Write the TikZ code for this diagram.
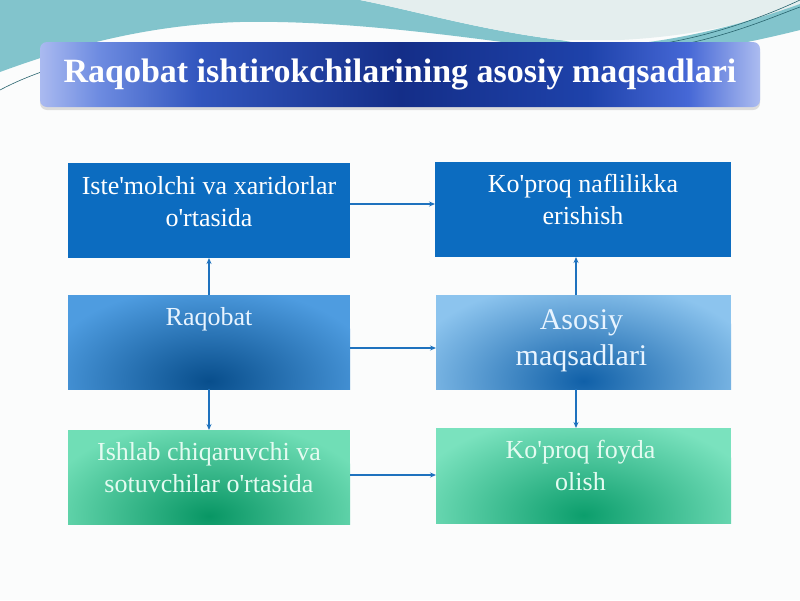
\documentclass[tikz,border=0pt]{standalone}
\usepackage{fontspec}
\setmainfont{Liberation Serif}
\usetikzlibrary{calc,shadows,arrows.meta}
\definecolor{bgc}{RGB}{251,252,252}
\definecolor{teal1}{RGB}{130,196,204}
\definecolor{lightreg}{RGB}{228,238,238}
\definecolor{darkline}{RGB}{40,100,110}
\definecolor{solidblue}{RGB}{12,108,192}
\definecolor{arrc}{RGB}{30,114,190}
\definecolor{tA}{RGB}{170,186,240}
\definecolor{tB}{RGB}{110,140,225}
\definecolor{tC}{RGB}{50,86,190}
\definecolor{tD}{RGB}{20,46,136}
\definecolor{tE}{RGB}{30,66,170}
\definecolor{tF}{RGB}{70,104,214}
\definecolor{tG}{RGB}{172,188,240}
\definecolor{b3o}{RGB}{78,156,224}
\definecolor{b3i}{RGB}{8,78,140}
\definecolor{b4o}{RGB}{140,196,238}
\definecolor{b4i}{RGB}{16,96,168}
\definecolor{b5o}{RGB}{112,222,182}
\definecolor{b5i}{RGB}{8,150,100}
\definecolor{b6o}{RGB}{122,226,190}
\definecolor{b6i}{RGB}{12,158,108}
\definecolor{txb}{RGB}{232,244,255}
\definecolor{txg}{RGB}{228,251,241}
\pgfdeclarehorizontalshading{titleshade}{100bp}{color(0bp)=(tA); color(25bp)=(tA); color(29bp)=(tB); color(36bp)=(tC); color(50bp)=(tD); color(63bp)=(tE); color(70bp)=(tF); color(75bp)=(tG); color(100bp)=(tG)}
\tikzset{
  box/.style={rectangle, inner sep=0pt, outer sep=0pt, draw=none},
  solidbox/.style={box, fill=solidblue},
  gbox/.style n args={4}{box, path picture={
      \fill[#1] (path picture bounding box.south west) rectangle (path picture bounding box.north east);
      \shade[inner color=#2, outer color=#1] ($(path picture bounding box.south)+(0,-8)$) ellipse (#3 and #4);}},
  txt/.style={text=white, align=center, font=\fontsize{26}{32}\selectfont, inner sep=0pt, anchor=base},
  arr/.style={draw=arrc, line width=1.6pt, -{Stealth[length=6pt,width=5pt]}},
}
\begin{document}
\begin{tikzpicture}[x=1pt,y=-1pt]
\useasboundingbox (0,0) rectangle (800,600);
\fill[bgc] (0,0) rectangle (800,600);
% background decoration
\fill[teal1] (0,0) -- (360,0) .. controls (420,12) and (480,30) .. (560,40) -- (600,47) -- (540,47)
  .. controls (450,35) and (340,20) .. (240,22) .. controls (140,25) and (60,50) .. (0,72) -- cycle;
\fill[lightreg] (360,0) -- (800,0) -- (800,4) .. controls (760,20) and (700,36) .. (620,40) -- (560,40)
  .. controls (480,30) and (420,12) .. (360,0) -- cycle;
\fill[teal1] (600,47) .. controls (680,42) and (750,22) .. (800,4) -- (800,30) .. controls (760,40) and (720,48) .. (690,52) -- cycle;
\draw[darkline, line width=0.6pt] (660,44) .. controls (720,34) and (770,14) .. (800,0);
\draw[darkline, line width=0.6pt] (680,45) .. controls (735,34) and (775,16) .. (800,7);
\draw[darkline, line width=0.6pt] (0,90) .. controls (15,82) and (30,76) .. (44,71);
% title
\node[box, rounded corners=7pt, shading=titleshade, minimum width=720pt, minimum height=65pt,
  drop shadow={shadow xshift=0pt, shadow yshift=-3pt, opacity=0.25, fill=gray},
  text=white, font=\bfseries\fontsize{34}{38}\selectfont] (title) at (400,74.5)
  {Raqobat ishtirokchilarining asosiy maqsadlari};
% boxes
\node[solidbox, minimum width=282pt, minimum height=95pt] (b1) at (209,210.5) {};
\node[solidbox, minimum width=296pt, minimum height=95pt] (b2) at (583,209.5) {};
\node[gbox={b3o}{b3i}{170pt}{95pt}, minimum width=282pt, minimum height=94pt] (b3) at (209,342) {};
\node[gbox={b4o}{b4i}{180pt}{100pt}, minimum width=295pt, minimum height=94pt] (b4) at (583.5,342) {};
\node[gbox={b5o}{b5i}{170pt}{95pt}, minimum width=282pt, minimum height=94pt] (b5) at (209,477) {};
\node[gbox={b6o}{b6i}{180pt}{100pt}, minimum width=295pt, minimum height=95pt] (b6) at (583.5,475.5) {};
% texts (anchor base = baseline of last line)
\node[txt] (t1) at ($(b1.north)+(0,63)$) {Iste\textquotesingle molchi va xaridorlar\\o\textquotesingle rtasida};
\node[txt] (t2) at ($(b2.north)+(0,62)$) {Ko\textquotesingle proq naflilikka\\erishish};
\node[txt, text=txb] (t3) at ($(b3.north)+(0,30)$) {Raqobat};
\node[txt, text=txb, font=\fontsize{30}{36}\selectfont] (t4) at ($(b4.north)+(-2,70)$) {Asosiy\\maqsadlari};
\node[txt, text=txg] (t5) at ($(b5.north)+(0,62)$) {Ishlab chiqaruvchi va\\sotuvchilar o\textquotesingle rtasida};
\node[txt, text=txg] (t6) at ($(b6.north)+(-3,62)$) {Ko\textquotesingle proq foyda\\olish};
% connectors
\coordinate (a1) at ([yshift=6.5pt]b1.east);
\coordinate (a3) at ([yshift=-6pt]b3.east);
\coordinate (a5) at ([yshift=2pt]b5.east);
\coordinate (v4n) at ([xshift=-7.5pt]b4.north);
\coordinate (v4s) at ([xshift=-7.5pt]b4.south);
\draw[arr] (a1) -- (a1 -| b2.west);
\draw[arr] (a3) -- (a3 -| b4.west);
\draw[arr] (a5) -- (a5 -| b6.west);
\draw[arr] (b3.north) -- (b1.south);
\draw[arr] (b3.south) -- (b5.north);
\draw[arr] (v4n) -- (v4n |- b2.south);
\draw[arr] (v4s) -- (v4s |- b6.north);
\end{tikzpicture}
\end{document}
